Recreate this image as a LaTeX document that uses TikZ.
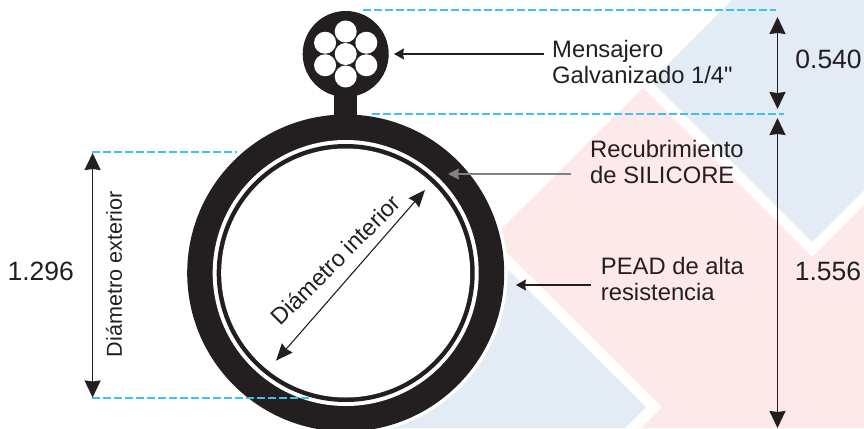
\documentclass[tikz,border=0pt]{standalone}
\usepackage{fontspec}
\setmainfont{Liberation Sans}
\newfontfamily\plainquote{Liberation Sans}
\usetikzlibrary{arrows.meta,calc}
\definecolor{ink}{HTML}{231F20}
\definecolor{dashblue}{HTML}{3FC0F2}
\definecolor{paleblue}{HTML}{E3EBF4}
\definecolor{palepink}{HTML}{FDE9E9}
\definecolor{leadgray}{HTML}{808285}
\tikzset{
  x=1pt,y=-1pt,
  disc/.style={circle,inner sep=0pt,minimum size=#1,fill=ink},
  hole/.style={circle,inner sep=0pt,minimum size=#1,fill=white},
  dim/.style={draw=ink,line width=1.7pt,{Stealth[length=17pt,width=16pt,inset=1pt]}-{Stealth[length=17pt,width=16pt,inset=1pt]}},
  diag/.style={draw=ink,line width=1.1pt,{Stealth[length=17pt,width=14pt,inset=1.5pt]}-{Stealth[length=17pt,width=14pt,inset=1.5pt]}},
  lead/.style={draw=ink,line width=1.1pt,-{Stealth[length=10pt,width=11pt,inset=1pt]}},
  leadg/.style={draw=leadgray,line width=1.1pt,-{Stealth[length=11pt,width=11pt,inset=1pt]}},
  guide/.style={draw=dashblue,line width=1.2pt,dash pattern=on 7.5pt off 3.5pt},
  lbl/.style={inner sep=0pt,text=ink,align=left,anchor=west,font=\fontsize{23.8}{26.5}\selectfont},
  num/.style={inner sep=0pt,text=ink,anchor=base west,font=\fontsize{26.5}{28}\selectfont},
  dimtxt/.style={inner sep=0pt,text=ink,font=\fontsize{21.6}{26}\selectfont}
}
\begin{document}
\begin{tikzpicture}
\useasboundingbox (0,0) rectangle (864,428);
% background shapes
\fill[paleblue] (732,0) -- (651,81) -- (812,242) -- (864,190) -- (864,0) -- cycle;
\fill[paleblue] (646,407) -- (625,428) -- (380,428) -- (440,340) -- (509,271) -- cycle;
\fill[palepink] (643,88) -- (812,257) -- (864,205) -- (864,428) -- (641,428) -- (662,407) -- (492,238) -- cycle;
% cable
\begin{scope}
\clip (0,0) rectangle (864,428);
\node[hole=324pt] (halo) at (345.7,273) {};
\node[disc=317pt] (jacket) at (345.7,273) {};
\node[hole=266pt] (gap) at (345.7,273) {};
\node[disc=258pt] (liner) at (345.7,273) {};
\node[hole=249pt] (bore) at (345.7,273) {};
\end{scope}
\fill[ink] (334,90) rectangle (357,125);
\node[disc=86pt] (messenger) at (345.7,54) {};
\node[hole=22pt] (w0) at (345.7,54) {};
\foreach \a in {30,90,150,210,270,330}
  \node[hole=22pt] (w\a) at ($(345.7,54)+(\a:23.8 and 22.5)$) {};
% guides
\coordinate (gt1) at (363,10); \coordinate (gt2) at (776,10);
\coordinate (gm1) at (372,114); \coordinate (gm2) at (784,114);
\coordinate (gl1) at (92,152); \coordinate (gl2) at (237,152);
\coordinate (gb1) at (92,398); \coordinate (gb2) at (312,398);
\draw[guide] (gt1) -- (gt2);
\draw[guide] (gm1) -- (gm2);
\draw[guide] (gl1) -- (gl2);
\draw[guide] (gb1) -- (gb2);
% dimension arrows
\coordinate (a1) at (777.5,17); \coordinate (a2) at (777.5,109);
\coordinate (b1) at (777.5,118); \coordinate (b2) at (777.5,428);
\coordinate (c1) at (92.6,153); \coordinate (c2) at (92.6,397.5);
\coordinate (d1) at (276,360.7); \coordinate (d2) at (425,190);
\path[dim] (a1) -- (a2);
\path[dim] (b1) -- (b2);
\path[dim] (c1) -- (c2);
\path[diag] (d1) -- (d2);
% labels
\node[lbl] (mens) at (552,62) {Mensajero\\Galvanizado 1/4{\plainquote"}};
\node[lbl] (recu) at (590,162) {Recubrimiento\\de SILICORE};
\node[lbl] (pead) at (600.7,279) {PEAD de alta\\resistencia};
\node[num] (v1) at (795.2,68.3) {0.540};
\node[num] (v2) at (794.6,280) {1.556};
\node[num] (v3) at (7.4,280.7) {1.296};
\node[dimtxt,rotate=90] at (114,274.5) (dext) {Diámetro exterior};
\node[dimtxt,rotate=45,font=\fontsize{23.3}{26}\selectfont] at (335.5,260) (dint) {Diámetro interior};
% leaders
\coordinate (t1) at (394,54); \coordinate (s1) at (544,54);
\coordinate (t2) at (448,174); \coordinate (s2) at (571,174);
\coordinate (t3) at (516,285); \coordinate (s3) at (591,285);
\path[lead] (s1) -- (t1);
\path[leadg] (s2) -- (t2);
\path[lead] (s3) -- (t3);
\end{tikzpicture}
\end{document}
